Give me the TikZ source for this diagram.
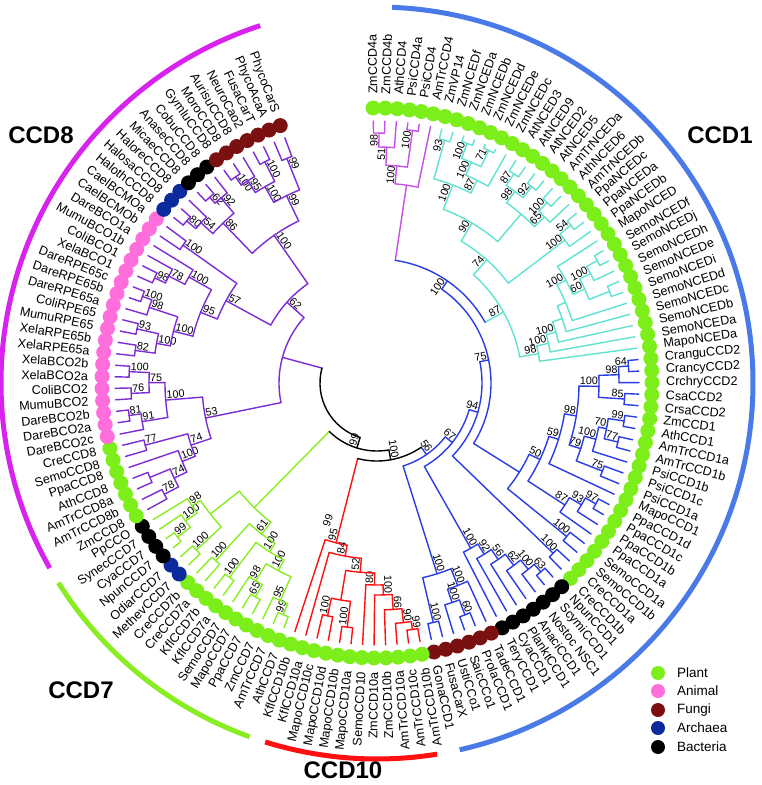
\documentclass[tikz,border=0pt]{standalone}
\usepackage{fontspec}
\setmainfont{Liberation Sans}
\definecolor{cPurple}{HTML}{7B2CD6}
\definecolor{cArcEight}{HTML}{D822EE}
\definecolor{cMag}{HTML}{C850E6}
\definecolor{cCyan}{HTML}{5FE3D0}
\definecolor{cBlue}{HTML}{2A3CE6}
\definecolor{cArcOne}{HTML}{4A7AE8}
\definecolor{cGreen}{HTML}{88EE22}
\definecolor{cRed}{HTML}{FF1010}
\definecolor{cPlant}{HTML}{7CEE1A}
\definecolor{cAnimal}{HTML}{FF6EDB}
\definecolor{cFungi}{HTML}{7A1010}
\definecolor{cArch}{HTML}{0B2B9C}
\definecolor{cBact}{HTML}{000000}
\tikzset{
  leaflab/.style={font=\fontsize{12.6}{14}\selectfont, inner sep=0pt},
  bslab/.style={font=\fontsize{10.8}{12}\selectfont, inner sep=1pt},
  treeline/.style={line width=1.4pt, line cap=round},
  outerarc/.style={line width=5pt},
  cladetitle/.style={font=\fontsize{24}{26}\selectfont\bfseries, inner sep=0pt},
  legtext/.style={font=\fontsize{13.5}{15}\selectfont, anchor=west, inner sep=0pt}
}
% leaf: index, name, dot colour
\newcommand\TLeaf[3]{%
  \pgfmathsetmacro\la{90.8-2.52*#1}%
  \expandafter\xdef\csname A@#1\endcsname{\la}%
  \expandafter\xdef\csname R@#1\endcsname{262pt}%
  \fill[#3] (\la:275pt) circle[radius=7.5pt];
  \pgfmathtruncatemacro\flag{(\la>-79.3)?1:0}%
  \ifnum\flag=1
    \node[leaflab,rotate=\la,anchor=west] (lf#1) at (\la:289pt) {#2};
  \else
    \pgfmathsetmacro\lb{\la+180}%
    \node[leaflab,rotate=\lb,anchor=east] (lf#1) at (\la:289pt) {#2};
  \fi}
% bootstrap label: angle, radius, text
\newcommand\TBoot[3]{%
  \if\relax\detokenize{#3}\relax\else
    \pgfmathtruncatemacro\flag{(#1>-90)?1:0}%
    \ifnum\flag=1
      \node[bslab,rotate=#1,anchor=south east] at (#1:#2pt) {#3};
    \else
      \pgfmathsetmacro\rr{#1+180}%
      \node[bslab,rotate=\rr,anchor=south west] at (#1:#2pt) {#3};
    \fi
  \fi}
% clade: name, radius, child A, child B, label, colour
\newcommand\TClade[6]{%
  \edef\aA{\csname A@#3\endcsname}\edef\rA{\csname R@#3\endcsname}%
  \edef\aB{\csname A@#4\endcsname}\edef\rB{\csname R@#4\endcsname}%
  \edef\colA{\ifcsname C@#3\endcsname\csname C@#3\endcsname\else #6\fi}%
  \edef\colB{\ifcsname C@#4\endcsname\csname C@#4\endcsname\else #6\fi}%
  \draw[treeline,color=\colA] (\aA:\rA) -- (\aA:#2pt);
  \draw[treeline,color=\colB] (\aB:\rB) -- (\aB:#2pt);
  \draw[treeline,color=#6] (\aA:#2pt) arc[start angle=\aA, end angle=\aB, radius=#2pt];
  \pgfmathsetmacro\aM{(\aA+\aB)/2}%
  \expandafter\xdef\csname A@#1\endcsname{\aM}%
  \expandafter\xdef\csname R@#1\endcsname{#2pt}%
  \expandafter\xdef\csname C@#1\endcsname{#6}%
  \TBoot{\aM}{#2}{#5}}
\begin{document}
\begin{tikzpicture}[x=1pt,y=1pt]
\useasboundingbox (-377,-402) rectangle (385,383);
% ---- leaves ----
\TLeaf{0}{ZmCCD4a}{cPlant}
\TLeaf{1}{ZmCCD4b}{cPlant}
\TLeaf{2}{AthCCD4}{cPlant}
\TLeaf{3}{PsiCCD4a}{cPlant}
\TLeaf{4}{PsiCCD4}{cPlant}
\TLeaf{5}{AmTrCCD4}{cPlant}
\TLeaf{6}{ZmVP14}{cPlant}
\TLeaf{7}{ZmNCEDf}{cPlant}
\TLeaf{8}{ZmNCEDa}{cPlant}
\TLeaf{9}{ZmNCEDb}{cPlant}
\TLeaf{10}{ZmNCEDd}{cPlant}
\TLeaf{11}{ZmNCEDe}{cPlant}
\TLeaf{12}{ZmNCEDc}{cPlant}
\TLeaf{13}{AtNCED3}{cPlant}
\TLeaf{14}{AtNCED9}{cPlant}
\TLeaf{15}{AtNCED2}{cPlant}
\TLeaf{16}{AtNCED5}{cPlant}
\TLeaf{17}{AmTrNCEDa}{cPlant}
\TLeaf{18}{AthNCED6}{cPlant}
\TLeaf{19}{AmTrNCEDb}{cPlant}
\TLeaf{20}{PpaNCEDc}{cPlant}
\TLeaf{21}{PpaNCEDa}{cPlant}
\TLeaf{22}{PpaNCEDb}{cPlant}
\TLeaf{23}{MapoNCED}{cPlant}
\TLeaf{24}{SemoNCEDf}{cPlant}
\TLeaf{25}{SemoNCEDj}{cPlant}
\TLeaf{26}{SemoNCEDh}{cPlant}
\TLeaf{27}{SemoNCEDe}{cPlant}
\TLeaf{28}{SemoNCEDi}{cPlant}
\TLeaf{29}{SemoNCEDd}{cPlant}
\TLeaf{30}{SemoNCEDc}{cPlant}
\TLeaf{31}{SemoNCEDb}{cPlant}
\TLeaf{32}{SemoNCEDa}{cPlant}
\TLeaf{33}{MapoNCEDa}{cPlant}
\TLeaf{34}{CranguCCD2}{cPlant}
\TLeaf{35}{CrancyCCD2}{cPlant}
\TLeaf{36}{CrchryCCD2}{cPlant}
\TLeaf{37}{CsaCCD2}{cPlant}
\TLeaf{38}{CrsaCCD2}{cPlant}
\TLeaf{39}{ZmCCD1}{cPlant}
\TLeaf{40}{AthCCD1}{cPlant}
\TLeaf{41}{AmTrCCD1a}{cPlant}
\TLeaf{42}{AmTrCCD1b}{cPlant}
\TLeaf{43}{PsiCCD1b}{cPlant}
\TLeaf{44}{PsiCCD1c}{cPlant}
\TLeaf{45}{PsiCCD1a}{cPlant}
\TLeaf{46}{MapoCCD1}{cPlant}
\TLeaf{47}{PpaCCD1d}{cPlant}
\TLeaf{48}{PpaCCD1c}{cPlant}
\TLeaf{49}{PpaCCD1b}{cPlant}
\TLeaf{50}{PpaCCD1a}{cPlant}
\TLeaf{51}{SemoCCD1a}{cPlant}
\TLeaf{52}{SemoCCD1b}{cPlant}
\TLeaf{53}{CreCCD1a}{cPlant}
\TLeaf{54}{CreCCD1b}{cPlant}
\TLeaf{55}{NpunCCD1}{cBact}
\TLeaf{56}{ScymiCCD1}{cBact}
\TLeaf{57}{Nostoc NSC1}{cBact}
\TLeaf{58}{AnaciCCD1}{cBact}
\TLeaf{59}{PlanktCCD1}{cBact}
\TLeaf{60}{CyaCCD1}{cBact}
\TLeaf{61}{TeryCCD1}{cBact}
\TLeaf{62}{TadeCCD1}{cFungi}
\TLeaf{63}{ProlaCCD1}{cFungi}
\TLeaf{64}{SaicCCo1}{cFungi}
\TLeaf{65}{UstiCCo1}{cFungi}
\TLeaf{66}{FusaCarX}{cFungi}
\TLeaf{67}{GonaCCD1}{cFungi}
\TLeaf{68}{AmTrCCD10b}{cPlant}
\TLeaf{69}{AmTrCCD10c}{cPlant}
\TLeaf{70}{AmTrCCD10a}{cPlant}
\TLeaf{71}{ZmCCD10b}{cPlant}
\TLeaf{72}{ZmCCD10a}{cPlant}
\TLeaf{73}{SemoCCD10}{cPlant}
\TLeaf{74}{MapoCCD10a}{cPlant}
\TLeaf{75}{MapoCCD10b}{cPlant}
\TLeaf{76}{MapoCCD10d}{cPlant}
\TLeaf{77}{MapoCCD10c}{cPlant}
\TLeaf{78}{KflCCD10a}{cPlant}
\TLeaf{79}{KflCCD10b}{cPlant}
\TLeaf{80}{AthCCD7}{cPlant}
\TLeaf{81}{AmTrCCD7}{cPlant}
\TLeaf{82}{ZmCCD7}{cPlant}
\TLeaf{83}{PpaCCD7}{cPlant}
\TLeaf{84}{MapoCCD7}{cPlant}
\TLeaf{85}{SemoCCD7}{cPlant}
\TLeaf{86}{KflCCD7a}{cPlant}
\TLeaf{87}{KflCCD7b}{cPlant}
\TLeaf{88}{CreCCD7a}{cPlant}
\TLeaf{89}{CreCCD7b}{cPlant}
\TLeaf{90}{MethevCCD7}{cArch}
\TLeaf{91}{OdiarCCD7}{cArch}
\TLeaf{92}{NpunCCD7}{cBact}
\TLeaf{93}{CyaCCD7}{cBact}
\TLeaf{94}{SynecCCD7}{cBact}
\TLeaf{95}{PpCCO}{cBact}
\TLeaf{96}{ZmCCD8}{cPlant}
\TLeaf{97}{AmTrCCD8b}{cPlant}
\TLeaf{98}{AmTrCCD8a}{cPlant}
\TLeaf{99}{AthCCD8}{cPlant}
\TLeaf{100}{PpaCCD8}{cPlant}
\TLeaf{101}{SemoCCD8}{cPlant}
\TLeaf{102}{CreCCD8}{cPlant}
\TLeaf{103}{DareBCO2c}{cAnimal}
\TLeaf{104}{DareBCO2a}{cAnimal}
\TLeaf{105}{DareBCO2b}{cAnimal}
\TLeaf{106}{MumuBCO2}{cAnimal}
\TLeaf{107}{ColiBCO2}{cAnimal}
\TLeaf{108}{XelaBCO2a}{cAnimal}
\TLeaf{109}{XelaBCO2b}{cAnimal}
\TLeaf{110}{XelaRPE65a}{cAnimal}
\TLeaf{111}{XelaRPE65b}{cAnimal}
\TLeaf{112}{MumuRPE65}{cAnimal}
\TLeaf{113}{ColiRPE65}{cAnimal}
\TLeaf{114}{DareRPE65a}{cAnimal}
\TLeaf{115}{DareRPE65b}{cAnimal}
\TLeaf{116}{DareRPE65c}{cAnimal}
\TLeaf{117}{XelaBCO1}{cAnimal}
\TLeaf{118}{ColiBCO1}{cAnimal}
\TLeaf{119}{MumuBCO1b}{cAnimal}
\TLeaf{120}{DareBCO1a}{cAnimal}
\TLeaf{121}{CaelBCMOb}{cAnimal}
\TLeaf{122}{CaelBCMOa}{cAnimal}
\TLeaf{123}{HalothCCD8}{cArch}
\TLeaf{124}{HalosaCCD8}{cArch}
\TLeaf{125}{HaloreCCD8}{cArch}
\TLeaf{126}{MicaeCCD8}{cBact}
\TLeaf{127}{AnaseCCD8}{cBact}
\TLeaf{128}{CobuCCD8}{cBact}
\TLeaf{129}{GymluCCD8}{cFungi}
\TLeaf{130}{MoroCCD8}{cFungi}
\TLeaf{131}{AurisuCCD8}{cFungi}
\TLeaf{132}{NeuroCao2}{cFungi}
\TLeaf{133}{FusaCarT}{cFungi}
\TLeaf{134}{PhycoAcaA}{cFungi}
\TLeaf{135}{PhycoCarS}{cFungi}
% ---- CCD4 ----
\TClade{q1}{250}{0}{1}{98}{cMag}
\TClade{q2}{236}{q1}{2}{51}{cMag}
\TClade{q3}{255}{3}{4}{100}{cMag}
\TClade{q4}{218}{q2}{q3}{100}{cMag}
\TClade{q5}{200}{q4}{5}{}{cMag}
% ---- NCED ----
\TClade{n1}{252}{6}{7}{93}{cCyan}
\TClade{n2}{256}{8}{9}{100}{cCyan}
\TClade{n3}{258}{10}{11}{71}{cCyan}
\TClade{n4}{240}{n2}{n3}{100}{cCyan}
\TClade{n5}{226}{n4}{12}{87}{cCyan}
\TClade{n6}{212}{n1}{n5}{100}{cCyan}
\TClade{n7}{250}{13}{14}{87}{cCyan}
\TClade{n8}{250}{15}{16}{92}{cCyan}
\TClade{n9}{236}{n7}{n8}{98}{cCyan}
\TClade{n10}{248}{17}{18}{100}{cCyan}
\TClade{n11}{236}{n10}{19}{65}{cCyan}
\TClade{n12}{222}{n9}{n11}{}{cCyan}
\TClade{n13}{186}{n6}{n12}{90}{cCyan}
\TClade{x1}{250}{20}{21}{54}{cCyan}
\TClade{x2}{236}{x1}{22}{100}{cCyan}
\TClade{n14}{165}{n13}{x2}{74}{cCyan}
\TClade{x3}{252}{24}{25}{}{cCyan}
\TClade{x4}{240}{x3}{26}{100}{cCyan}
\TClade{x5}{250}{27}{28}{}{cCyan}
\TClade{x6}{228}{x4}{x5}{60}{cCyan}
\TClade{x7}{215}{23}{x6}{100}{cCyan}
\TClade{x8}{205}{x7}{29}{}{cCyan}
\TClade{x9}{196}{x8}{30}{}{cCyan}
\TClade{x10}{186}{x9}{31}{100}{cCyan}
\TClade{x11}{176}{x10}{32}{100}{cCyan}
\TClade{x12}{164}{x11}{33}{98}{cCyan}
\TClade{N}{145}{n14}{x12}{87}{cCyan}
% ---- CCD2 / CCD1 ----
\TClade{k1}{252}{34}{35}{64}{cBlue}
\TClade{k2}{242}{k1}{36}{98}{cBlue}
\TClade{k3}{248}{37}{38}{85}{cBlue}
\TClade{k4}{222}{k2}{k3}{100}{cBlue}
\TClade{e1}{250}{39}{40}{99}{cBlue}
\TClade{e2}{248}{41}{42}{77}{cBlue}
\TClade{e3}{234}{e1}{e2}{70}{cBlue}
\TClade{e4}{226}{e3}{43}{100}{cBlue}
\TClade{e5}{242}{44}{45}{75}{cBlue}
\TClade{e6}{214}{e4}{e5}{79}{cBlue}
\TClade{cc}{202}{k4}{e6}{98}{cBlue}
\TClade{cd}{190}{cc}{46}{59}{cBlue}
\TClade{v1}{250}{47}{48}{97}{cBlue}
\TClade{v2}{238}{v1}{49}{93}{cBlue}
\TClade{v3}{224}{v2}{50}{87}{cBlue}
\TClade{ce1}{180}{cd}{v3}{50}{cBlue}
\TClade{v4}{244}{51}{52}{100}{cBlue}
\TClade{ce}{168}{ce1}{v4}{}{cBlue}
\TClade{w1}{245}{53}{54}{100}{cBlue}
% ---- bacteria / fungi CCD1 ----
\TClade{y1}{250}{55}{56}{63}{cBlue}
\TClade{y2}{240}{y1}{57}{100}{cBlue}
\TClade{y3}{228}{y2}{58}{62}{cBlue}
\TClade{y4}{214}{y3}{59}{56}{cBlue}
\TClade{y5}{202}{y4}{60}{92}{cBlue}
\TClade{y6}{190}{y5}{61}{100}{cBlue}
\TClade{u1}{246}{66}{67}{100}{cBlue}
\TClade{u2}{248}{63}{64}{60}{cBlue}
\TClade{u3}{232}{u2}{65}{100}{cBlue}
\TClade{u4}{218}{62}{u3}{100}{cBlue}
\TClade{u5}{200}{u1}{u4}{100}{cBlue}
% ---- CCD1 backbone ----
\TClade{E}{124}{q5}{N}{100}{cBlue}
\TClade{D}{114}{ce}{E}{75}{cBlue}
\TClade{C}{105}{w1}{D}{94}{cBlue}
\TClade{B}{96}{y6}{C}{67}{cBlue}
\TClade{A}{87}{u5}{B}{56}{cBlue}
% ---- CCD10 ----
\TClade{t1}{249}{68}{69}{99}{cRed}
\TClade{t2}{241}{t1}{70}{90}{cRed}
\TClade{t3}{227}{t2}{71}{66}{cRed}
\TClade{t4}{212}{t3}{72}{100}{cRed}
\TClade{t5}{202}{t4}{73}{80}{cRed}
\TClade{m1}{246}{74}{75}{100}{cRed}
\TClade{m2}{238}{76}{77}{100}{cRed}
\TClade{m3}{220}{m1}{m2}{}{cRed}
\TClade{t6}{190}{t5}{m3}{52}{cRed}
\TClade{t7}{176}{t6}{78}{84}{cRed}
\TClade{t8}{165}{t7}{79}{95}{cRed}
\node[bslab,rotate=70.3] (b99red) at (-109.7:146pt) {99};
\TClade{R}{78}{t8}{A}{100}{black}
% ---- CCD7 ----
\TClade{g1}{250}{80}{81}{99}{cGreen}
\TClade{g2}{238}{g1}{82}{95}{cGreen}
\TClade{g3}{246}{83}{84}{65}{cGreen}
\TClade{g4}{232}{g3}{85}{98}{cGreen}
\TClade{g5}{212}{g2}{g4}{100}{cGreen}
\TClade{g6}{244}{86}{87}{100}{cGreen}
\TClade{g7}{200}{g5}{g6}{100}{cGreen}
\TClade{g8}{240}{88}{89}{100}{cGreen}
\TClade{g9}{190}{g7}{g8}{61}{cGreen}
\TClade{h0}{246}{90}{91}{100}{cGreen}
\TClade{s1}{252}{92}{93}{99}{cGreen}
\TClade{s2}{236}{s1}{94}{100}{cGreen}
\TClade{s3}{222}{s2}{95}{98}{cGreen}
\TClade{s4}{212}{h0}{s3}{}{cGreen}
\TClade{G}{175}{g9}{s4}{}{cGreen}
% ---- CCD8 ----
\TClade{p1}{240}{96}{97}{78}{cPurple}
\TClade{p1b}{246}{98}{99}{}{cPurple}
\TClade{p2}{224}{p1}{p1b}{74}{cPurple}
\TClade{p3}{210}{100}{p2}{100}{cPurple}
\TClade{p4}{240}{101}{102}{77}{cPurple}
\TClade{p5}{196}{p3}{p4}{74}{cPurple}
\TClade{a1}{250}{104}{105}{81}{cPurple}
\TClade{a2}{238}{103}{a1}{91}{cPurple}
\TClade{a3}{246}{106}{107}{76}{cPurple}
\TClade{a4}{248}{108}{109}{100}{cPurple}
\TClade{a5}{228}{a3}{a4}{75}{cPurple}
\TClade{a6}{212}{a2}{a5}{100}{cPurple}
\TClade{L}{175}{p5}{a6}{53}{cPurple}
\TClade{r1}{244}{110}{111}{82}{cPurple}
\TClade{r2}{246}{112}{113}{93}{cPurple}
\TClade{r3}{224}{r1}{r2}{100}{cPurple}
\TClade{r4}{250}{115}{116}{100}{cPurple}
\TClade{r5}{240}{114}{r4}{98}{cPurple}
\TClade{r6}{210}{r3}{r5}{100}{cPurple}
\TClade{b1}{246}{117}{118}{98}{cPurple}
\TClade{b2}{234}{b1}{119}{78}{cPurple}
\TClade{b3}{216}{b2}{120}{100}{cPurple}
\TClade{rb}{190}{r6}{b3}{95}{cPurple}
\TClade{ca}{238}{121}{122}{100}{cPurple}
\TClade{an}{172}{rb}{ca}{57}{cPurple}
\TClade{h1}{250}{123}{124}{80}{cPurple}
\TClade{h2}{238}{h1}{125}{54}{cPurple}
\TClade{z1}{250}{126}{127}{62}{cPurple}
\TClade{z2}{242}{z1}{128}{92}{cPurple}
\TClade{hk}{222}{h2}{z2}{86}{cPurple}
\TClade{f1}{250}{129}{130}{100}{cPurple}
\TClade{f2}{240}{f1}{131}{95}{cPurple}
\TClade{f3}{248}{132}{133}{100}{cPurple}
\TClade{f4}{226}{f2}{f3}{100}{cPurple}
\TClade{f5}{242}{134}{135}{99}{cPurple}
\TClade{f6}{208}{f4}{f5}{99}{cPurple}
\TClade{pr}{180}{hk}{f6}{100}{cPurple}
\TClade{U}{121}{an}{pr}{62}{cPurple}
\TClade{P}{98}{L}{U}{}{cPurple}
% ---- root ----
\TClade{Q}{68}{G}{R}{99}{black}
\TClade{root}{57}{P}{Q}{}{black}
% ---- outer arcs ----
\draw[outerarc,cArcOne] (87.7:376pt) arc[start angle=87.7, end angle=-77.3, radius=376pt];
\draw[outerarc,cRed] (-80.8:376pt) arc[start angle=-80.8, end angle=-107.3, radius=376pt];
\draw[outerarc,cGreen] (-109.8:376pt) arc[start angle=-109.8, end angle=-147.9, radius=376pt];
\draw[outerarc,cArcEight] (-150.5:376pt) arc[start angle=-150.5, end angle=-251.9, radius=376pt];
% ---- titles ----
\node[cladetitle] (tone) at (343,248) {CCD1};
\node[cladetitle] (teight) at (-336,248) {CCD8};
\node[cladetitle] (tseven) at (-296,-307) {CCD7};
\node[cladetitle] (tten) at (-34,-387) {CCD10};
% ---- legend ----
\fill[cPlant] (281,-290) circle[radius=7pt];
\node[legtext] (lgp) at (300,-290) {Plant};
\fill[cAnimal] (281,-308) circle[radius=7pt];
\node[legtext] (lga) at (300,-308) {Animal};
\fill[cFungi] (281,-327) circle[radius=7pt];
\node[legtext] (lgf) at (300,-327) {Fungi};
\fill[cArch] (281,-345) circle[radius=7pt];
\node[legtext] (lgr) at (300,-345) {Archaea};
\fill[cBact] (281,-364) circle[radius=7pt];
\node[legtext] (lgb) at (300,-364) {Bacteria};
\end{tikzpicture}
\end{document}
